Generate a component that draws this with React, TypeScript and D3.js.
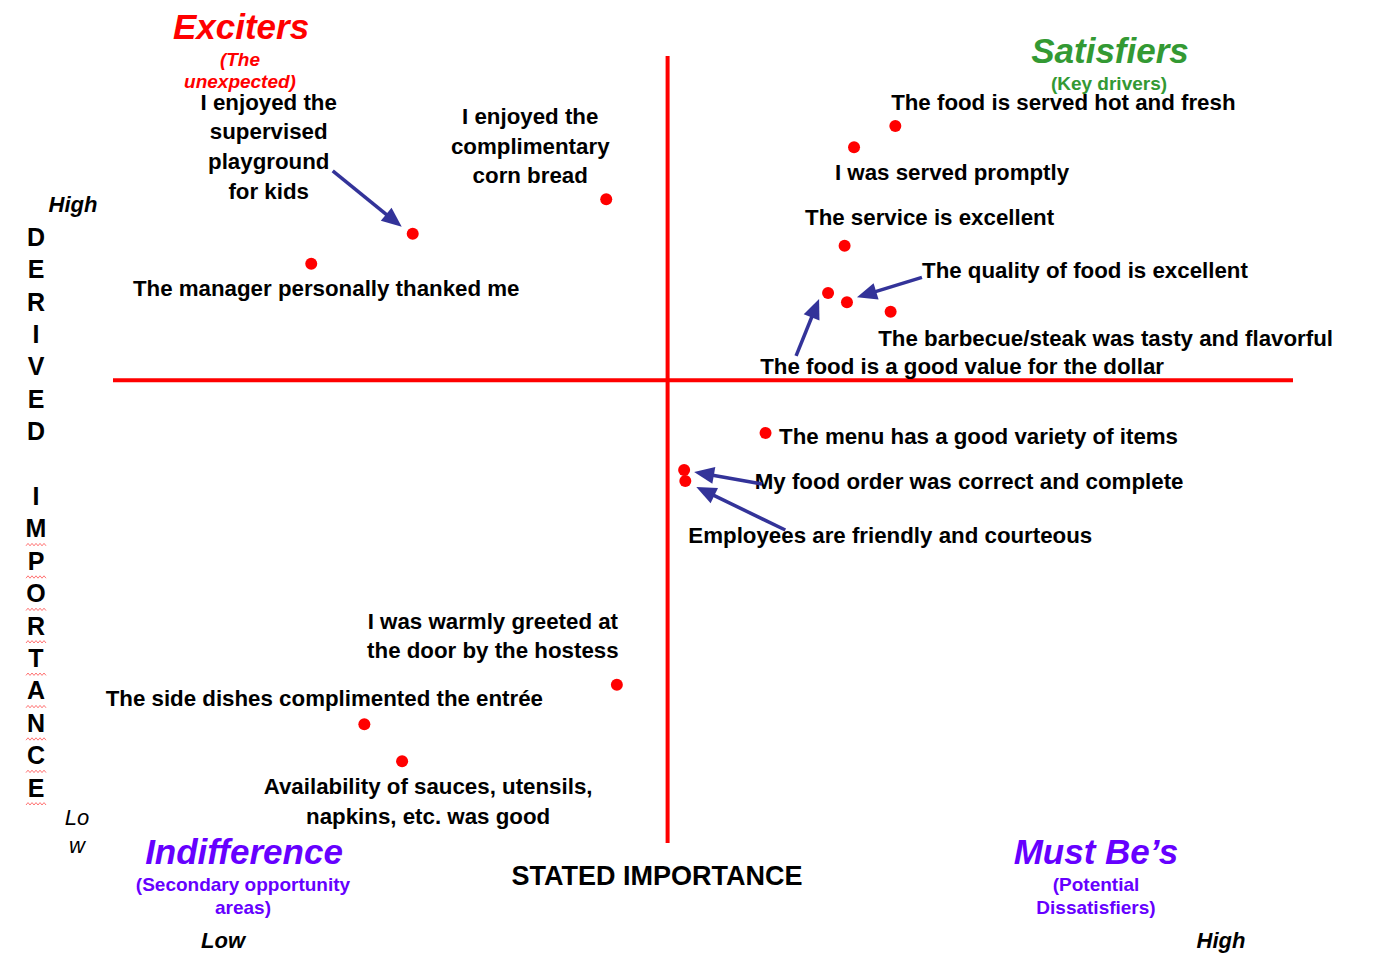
import React from 'react';
import * as d3 from 'd3';

// survey statements, one per point
const statements = [
  ['I enjoyed the', 'supervised', 'playground', 'for kids'],
  ['The manager personally thanked me'],
  ['I enjoyed the', 'complimentary', 'corn bread'],
  ['The food is served hot and fresh'],
  ['I was served promptly'],
  ['The service is excellent'],
  ['The quality of food is excellent'],
  ['The food is a good value for the dollar'],
  ['The barbecue/steak was tasty and flavorful'],
  ['The menu has a good variety of items'],
  ['My food order was correct and complete'],
  ['Employees are friendly and courteous'],
  ['I was warmly greeted at', 'the door by the hostess'],
  ['The side dishes complimented the entrée'],
  ['Availability of sauces, utensils,', 'napkins, etc. was good'],
];
const statedImportance = [25.4, 16.8, 41.8, 66.3, 62.8, 62.0, 62.2, 60.6, 65.9, 55.3, 48.4, 48.5, 42.7, 21.3, 24.5];
const derivedImportance = [77.4, 73.6, 81.8, 91.1, 88.4, 75.9, 68.7, 69.9, 67.5, 52.1, 47.4, 46.0, 20.1, 15.1, 10.4];
const statedMean = 47.0;
const derivedMean = 58.8;

const quadrantTitles = ['Exciters', 'Satisfiers', 'Indifference', 'Must Be\u2019s'];
const quadrantSubtitles = [['(The', 'unexpected)'], ['(Key drivers)'], ['(Secondary opportunity', 'areas)'], ['(Potential', 'Dissatisfiers)']];
const xAxisTitle = 'STATED IMPORTANCE';
const yAxisTitle = 'DERIVED IMPORTANCE';

// label placement relative to each point: [dx, dy] of the first line centre, optional arrow [tailDx, tailDy, tipDx, tipDy]
const labelLayout: { dx: number; dy: number; arrow?: number[] }[] = [
  { dx: -144, dy: -132, arrow: [-80, -63, -11, -7] },
  { dx: 15, dy: 24 },
  { dx: -76, dy: -83 },
  { dx: 168, dy: -24 },
  { dx: 98, dy: 25 },
  { dx: 85, dy: -28 },
  { dx: 238, dy: -32, arrow: [75, -25, 10, -5] },
  { dx: 134, dy: 73, arrow: [-32, 63, -9, 6] },
  { dx: 215, dy: 26 },
  { dx: 213, dy: 3 },
  { dx: 285, dy: 11, arrow: [78, 14, 10, 2] },
  { dx: 205, dy: 54, arrow: [100, 49, 11, 6] },
  { dx: -124, dy: -64 },
  { dx: -40, dy: -26 },
  { dx: 26, dy: 25 },
];

const W = 1382;
const H = 958;
const FONT = "'Liberation Sans', Arial, sans-serif";
const RED = '#ff0000';
const NAVY = '#333399';
const GREEN = '#339933';
const PURPLE = '#6600ff';

const x = d3.scaleLinear().domain([0, 100]).range([113, 1293]);
const y = d3.scaleLinear().domain([0, 100]).range([843, 56]);

const Arrow = ({ x1, y1, x2, y2 }: { x1: number; y1: number; x2: number; y2: number }) => {
  const a = Math.atan2(y2 - y1, x2 - x1);
  const len = 20;
  const half = 8.5;
  const bx = x2 - len * Math.cos(a);
  const by = y2 - len * Math.sin(a);
  const px = -Math.sin(a) * half;
  const py = Math.cos(a) * half;
  return (
    <g>
      <line x1={x1} y1={y1} x2={bx + 4 * Math.cos(a)} y2={by + 4 * Math.sin(a)} stroke={NAVY} strokeWidth={3.5} />
      <path d={`M${x2},${y2}L${bx + px},${by + py}L${bx - px},${by - py}Z`} fill={NAVY} />
    </g>
  );
};

const wavy = (x0: number, y0: number, w: number) => {
  const pts: [number, number][] = [];
  for (let i = 0; i <= w / 2; i++) pts.push([x0 + i * 2, y0 + (i % 2 ? -1.2 : 1.2)]);
  return d3.line()(pts) || '';
};

export default function App() {
  const qx = x(statedMean);
  const qy = y(derivedMean);
  const letters = yAxisTitle.split('');

  return (
    <svg width={W} height={H} style={{ position: 'absolute', left: 0, top: 0, background: '#fff' }} fontFamily={FONT}>
      {/* quadrant lines */}
      <line x1={x(0)} x2={x(100)} y1={qy} y2={qy} stroke={RED} strokeWidth={4} />
      <line x1={qx} x2={qx} y1={y(0)} y2={y(100)} stroke={RED} strokeWidth={4} />

      {/* quadrant titles */}
      <g fontWeight="bold" textAnchor="middle">
        <text x={241} y={27} dy="0.35em" fontSize={35} fontStyle="italic" fill={RED}>{quadrantTitles[0]}</text>
        {quadrantSubtitles[0].map((s, i) => (
          <text key={s} x={240} y={59 + i * 22} dy="0.35em" fontSize={19} fontStyle="italic" fill={RED}>{s}</text>
        ))}
        <text x={1110} y={51} dy="0.35em" fontSize={35} fontStyle="italic" fill={GREEN}>{quadrantTitles[1]}</text>
        {quadrantSubtitles[1].map((s) => (
          <text key={s} x={1109} y={83} dy="0.35em" fontSize={19} fill={GREEN}>{s}</text>
        ))}
        <text x={244} y={852} dy="0.35em" fontSize={35} fontStyle="italic" fill={PURPLE}>{quadrantTitles[2]}</text>
        {quadrantSubtitles[2].map((s, i) => (
          <text key={s} x={243} y={884 + i * 23} dy="0.35em" fontSize={19} fill={PURPLE}>{s}</text>
        ))}
        <text x={1096} y={852} dy="0.35em" fontSize={35} fontStyle="italic" fill={PURPLE}>{quadrantTitles[3]}</text>
        {quadrantSubtitles[3].map((s, i) => (
          <text key={s} x={1096} y={884 + i * 23} dy="0.35em" fontSize={19} fill={PURPLE}>{s}</text>
        ))}
      </g>

      {/* axis titles */}
      <text x={657} y={876} dy="0.35em" textAnchor="middle" fontWeight="bold" fontSize={27}>{xAxisTitle}</text>
      <g fontWeight="bold" fontStyle="italic" fontSize={22} textAnchor="middle">
        <text x={223} y={940} dy="0.35em">Low</text>
        <text x={1221} y={940} dy="0.35em">High</text>
        <text x={73} y={204} dy="0.35em">High</text>
      </g>
      <g fontStyle="italic" fontSize={22} textAnchor="middle">
        <text x={77} y={817} dy="0.35em">Lo</text>
        <text x={77} y={845} dy="0.35em">w</text>
      </g>
      <g fontWeight="bold" fontSize={25} textAnchor="middle">
        {letters.map((c, i) => (
          <text key={i} x={36} y={237 + i * 32.4} dy="0.35em">{c}</text>
        ))}
      </g>
      <g fill="none" stroke="#ff5050" strokeWidth={0.8}>
        {letters.map((c, i) => (i >= 9 ? <path key={i} d={wavy(26, 237 + i * 32.4 + 16, 20)} /> : null))}
      </g>

      {/* labels and arrows */}
      <g fontWeight="bold" fontSize={22.3} textAnchor="middle" fill="#000">
        {statements.map((lines, i) => {
          const px = x(statedImportance[i]);
          const py = y(derivedImportance[i]);
          const L = labelLayout[i];
          return (
            <g key={i}>
              {lines.map((ln, j) => (
                <text key={j} x={px + L.dx} y={py + L.dy + j * 29.7} dy="0.35em">{ln}</text>
              ))}
            </g>
          );
        })}
      </g>
      {statements.map((_, i) => {
        const L = labelLayout[i];
        if (!L.arrow) return null;
        const px = x(statedImportance[i]);
        const py = y(derivedImportance[i]);
        return <Arrow key={i} x1={px + L.arrow[0]} y1={py + L.arrow[1]} x2={px + L.arrow[2]} y2={py + L.arrow[3]} />;
      })}

      {/* points */}
      {statedImportance.map((v, i) => (
        <circle key={i} cx={x(v)} cy={y(derivedImportance[i])} r={6} fill={RED} />
      ))}
    </svg>
  );
}
